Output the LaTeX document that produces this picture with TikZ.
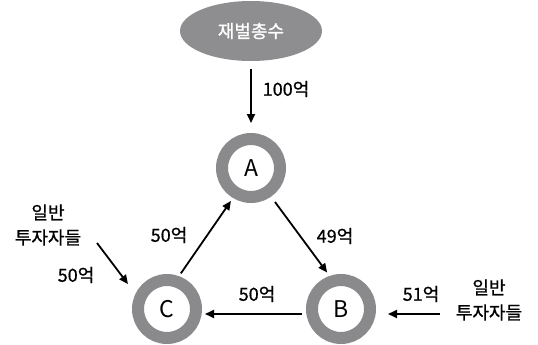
\documentclass[tikz,border=0pt]{standalone}
\usepackage{fontspec}
\setmainfont{Noto Sans CJK KR}
\newfontfamily\medfont[FakeBold=0.8]{Noto Sans CJK KR}
\usetikzlibrary{arrows.meta,shapes.geometric}
\definecolor{ringgray}{RGB}{138,138,140}
\definecolor{bossgray}{RGB}{142,142,144}
\begin{document}
\begin{tikzpicture}[x=1pt,y=-1pt,
  ring/.style={circle,draw=ringgray,line width=12pt,minimum size=58pt,inner sep=0pt,font=\fontsize{23}{26}\selectfont},
  boss/.style={ellipse,fill=bossgray,minimum width=142pt,minimum height=60pt,inner sep=0pt,outer sep=0pt,text=white,font=\medfont\fontsize{18}{20}\selectfont},
  lbl/.style={inner sep=0pt,font=\medfont\fontsize{18}{20}\selectfont},
  inv/.style={inner sep=0pt,align=center,font=\medfont\fontsize{18}{25}\selectfont},
  flow/.style={line width=1.8pt,-{Triangle[length=9pt,width=8pt]}}]
\useasboundingbox (0,0) rectangle (538,345);
\node[boss] (boss) at (251,31) {재벌총수};
\node[ring] (A) at (251,168) {A};
\node[ring] (B) at (341,309) {B};
\node[ring] (C) at (167,309) {C};
\node[lbl] (l100) at (286,89) {100억};
\node[lbl] (l50a) at (169,235) {50억};
\node[lbl] (l49) at (335,236) {49억};
\node[lbl] (l50b) at (257,294) {50억};
\node[lbl] (l51) at (421,294) {51억};
\node[lbl] (l50c) at (76,275) {50억};
\node[inv] (invL) at (48,225) {일반\\투자자들};
\node[inv] (invR) at (489,300) {일반\\투자자들};
\coordinate (ls) at (97,243);
\coordinate (le) at (128,284);
\coordinate (rs) at (440,314);
\coordinate (re) at (388,314);
\draw[flow,shorten <=8pt,shorten >=10pt] (boss) -- (A);
\draw[flow,shorten <=3.3pt,shorten >=3.6pt] (C.70) -- (A.239);
\draw[flow,shorten <=6.6pt,shorten >=4.2pt] (A.305) -- (B.109);
\draw[flow,shorten <=4pt,shorten >=3pt] ([yshift=-5pt]B.west) -- ([yshift=-5pt]C.east);
\draw[flow] (ls) -- (le);
\draw[flow] (rs) -- (re);
\end{tikzpicture}
\end{document}
